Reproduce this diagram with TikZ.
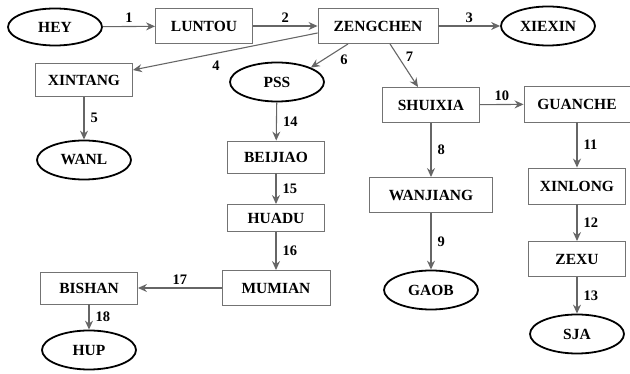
\documentclass[tikz,border=0pt]{standalone}
\usepackage{fontspec}
\setmainfont{Liberation Serif}
\usetikzlibrary{arrows.meta,shapes.geometric}
\begin{document}
\begin{tikzpicture}[x=1pt, y=1pt, font=\fontsize{15.5}{17}\selectfont\bfseries,
		box/.style = {draw=black!55, line width=0.9pt, rectangle, minimum width=97pt, minimum height=35pt, inner sep=0pt},
		oval/.style = {draw=black, line width=1.8pt, ellipse, minimum width=94pt, minimum height=37pt, inner sep=0pt},
		every edge/.style = {draw=black!60, line width=1.1pt, -{Stealth[length=9pt,width=8pt,inset=3pt]}},
		num/.style = {font=\fontsize{14.5}{16}\selectfont\bfseries, inner sep=2pt}]
		\useasboundingbox (0,0) rectangle (630,-374);
		\node[oval] (hey) at (55,-27) {HEY};
		\node[box] (luntou) at (204,-26) {LUNTOU};
		\node[box, minimum width=120pt] (zengchen) at (378,-26) {ZENGCHEN};
		\node[oval, minimum height=39pt] (xiexin) at (548,-26) {XIEXIN};
		\node[box, minimum height=33pt] (xintang) at (84,-80) {XINTANG};
		\node[oval, minimum height=39pt] (pss) at (277,-82) {PSS};
		\node[box] (shuixia) at (431,-105) {SHUIXIA};
		\node[box, minimum width=106pt, minimum height=36pt] (guanche) at (577,-104) {GUANCHE};
		\node[oval, minimum height=39pt] (wanl) at (84,-160) {WANL};
		\node[box, minimum height=32pt] (beijiao) at (276,-157) {BEIJIAO};
		\node[box, minimum height=36pt] (xinlong) at (577,-186) {XINLONG};
		\node[box, minimum width=123pt] (wanjiang) at (431,-195) {WANJIANG};
		\node[box, minimum height=27pt] (huadu) at (276,-218) {HUADU};
		\node[box, minimum width=108pt] (mumian) at (276,-288) {MUMIAN};
		\node[box, minimum height=32pt] (bishan) at (89,-288) {BISHAN};
		\node[oval, minimum height=39pt] (hup) at (89,-350) {HUP};
		\node[box] (zexu) at (577,-259) {ZEXU};
		\node[oval, minimum height=39pt] (gaob) at (431,-290) {GAOB};
		\node[oval, minimum height=39pt] (sja) at (577,-334) {SJA};
		\path
			(hey) edge node[num, above=1pt] {1} (luntou)
			(luntou) edge node[num, above=1pt] {2} (zengchen)
			(zengchen) edge node[num, above=1pt] {3} (xiexin)
			([yshift=-7pt]zengchen.west) edge node[num, pos=0.55, below=5pt] {4} ([yshift=10pt]xintang.east)
			(xintang) edge node[num, right=4pt] {5} (wanl)
			([xshift=-30pt]zengchen.south) edge node[num, pos=0.3, below right=1pt] {6} (pss.north east)
			([xshift=12pt]zengchen.south) edge node[num, pos=0.3, right=5pt] {7} ([xshift=-13pt]shuixia.north)
			(shuixia) edge node[num, right=4pt] {8} (wanjiang)
			(wanjiang) edge node[num, right=4pt] {9} (gaob)
			(shuixia) edge node[num, above=1pt] {10} (guanche)
			(guanche) edge node[num, right=4pt] {11} (xinlong)
			(xinlong) edge node[num, right=4pt] {12} (zexu)
			(zexu) edge node[num, right=4pt] {13} (sja)
			(pss) edge node[num, right=4pt] {14} (beijiao)
			(beijiao) edge node[num, right=4pt] {15} (huadu)
			(huadu) edge node[num, right=4pt] {16} (mumian)
			(mumian) edge node[num, above=1pt] {17} (bishan)
			(bishan) edge node[num, right=4pt] {18} (hup);
	\end{tikzpicture}
\end{document}
